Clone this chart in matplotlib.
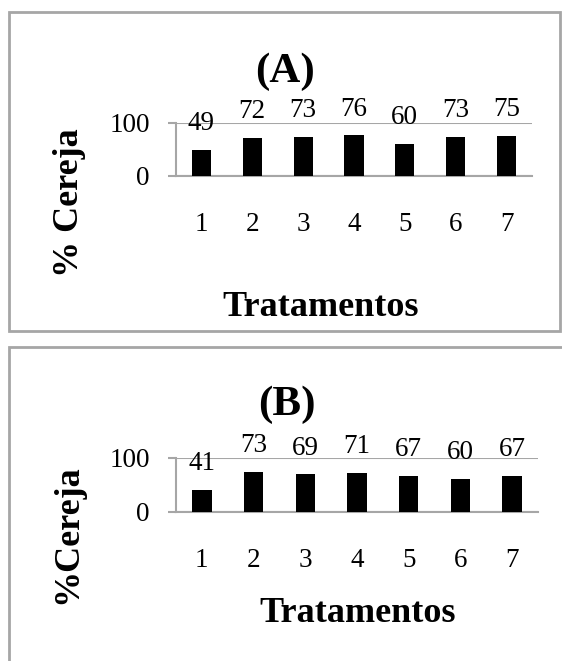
import matplotlib
matplotlib.use("Agg")
import numpy as np
import matplotlib.pyplot as plt
from matplotlib.patches import Rectangle

# -----------------------------
# Data
# -----------------------------
CATEGORIES = ["1", "2", "3", "4", "5", "6", "7"]
CEREJA_A = [49, 72, 73, 76, 60, 73, 75]
CEREJA_B = [41, 73, 69, 71, 67, 60, 67]

# -----------------------------
# Style
# -----------------------------
FIG_W, FIG_H, DPI = 562, 661, 100
GRAY = "#a6a6a6"
NUM_SIZE = 19.5
LABEL_SIZE = 26
TITLE_SIZE = 31
BAR_WIDTH = 0.375

plt.rcParams.update({
    "font.family": ["Liberation Serif", "DejaVu Serif"],
})


def px_rect(left, top, right, bottom):
    """pixel box (origin top-left) -> figure fraction [l, b, w, h]"""
    return [left / FIG_W, 1 - bottom / FIG_H, (right - left) / FIG_W, (bottom - top) / FIG_H]


def draw_panel(fig, box, values, title, title_xy, ylabel, ylabel_xy, xlabel_xy):
    ax = fig.add_axes(box)
    x = np.arange(len(CATEGORIES))
    bars = ax.bar(x, values, width=BAR_WIDTH, color="black", zorder=3)

    for rect, v in zip(bars, values):
        ax.annotate(
            f"{v}",
            (rect.get_x() + rect.get_width() / 2, v),
            xytext=(0, 19),
            textcoords="offset points",
            ha="center",
            va="center",
            fontsize=NUM_SIZE,
            zorder=5,
        )

    ax.set_xlim(-0.5, len(CATEGORIES) - 0.5)
    ax.set_ylim(0, 100)
    ax.set_xticks(x)
    ax.set_xticklabels(CATEGORIES)
    ax.set_yticks([0, 100])

    ax.grid(axis="y", color=GRAY, linewidth=1.5, zorder=1)
    ax.set_axisbelow(True)
    for side in ("top", "right"):
        ax.spines[side].set_visible(False)
    for side in ("left", "bottom"):
        ax.spines[side].set_color(GRAY)
        ax.spines[side].set_linewidth(1.5)

    ax.tick_params(axis="x", length=0, pad=26, labelsize=NUM_SIZE)
    ax.tick_params(axis="y", length=6, width=1.5, color=GRAY, pad=13, labelsize=NUM_SIZE)

    ax.text(title_xy[0], title_xy[1], title, transform=ax.transAxes,
            ha="center", va="center", fontsize=TITLE_SIZE, fontweight="bold")

    ax.set_ylabel(ylabel, fontsize=LABEL_SIZE, fontweight="bold")
    ax.yaxis.set_label_coords(*ylabel_xy)
    ax.yaxis.label.set_va("center")
    ax.yaxis.label.set_ha("center")

    ax.set_xlabel("Tratamentos", fontsize=LABEL_SIZE, fontweight="bold")
    ax.xaxis.set_label_coords(*xlabel_xy)
    ax.xaxis.label.set_va("center")
    ax.xaxis.label.set_ha("center")
    return ax


fig = plt.figure(figsize=(FIG_W / DPI, FIG_H / DPI), dpi=DPI)

# panel frames
fig.add_artist(Rectangle((9 / FIG_W, 1 - 330.5 / FIG_H), (560 - 9) / FIG_W, (330.5 - 12) / FIG_H,
                         transform=fig.transFigure, fill=False, edgecolor=GRAY, linewidth=2))
fig.add_artist(Rectangle((9 / FIG_W, 1 - 700 / FIG_H), (600 - 9) / FIG_W, (700 - 347) / FIG_H,
                         transform=fig.transFigure, fill=False, edgecolor=GRAY, linewidth=2))

draw_panel(fig, px_rect(176, 122.7, 532, 176), CEREJA_A, "(A)", (0.306, 1.95),
           "% Cereja", (-0.298, -0.507), (0.407, -2.46))
draw_panel(fig, px_rect(176, 457.7, 538, 511.7), CEREJA_B, "(B)", (0.307, 1.976),
           "%Cereja", (-0.298, -0.413), (0.501, -1.876))

fig.savefig("out.png", dpi=DPI)
